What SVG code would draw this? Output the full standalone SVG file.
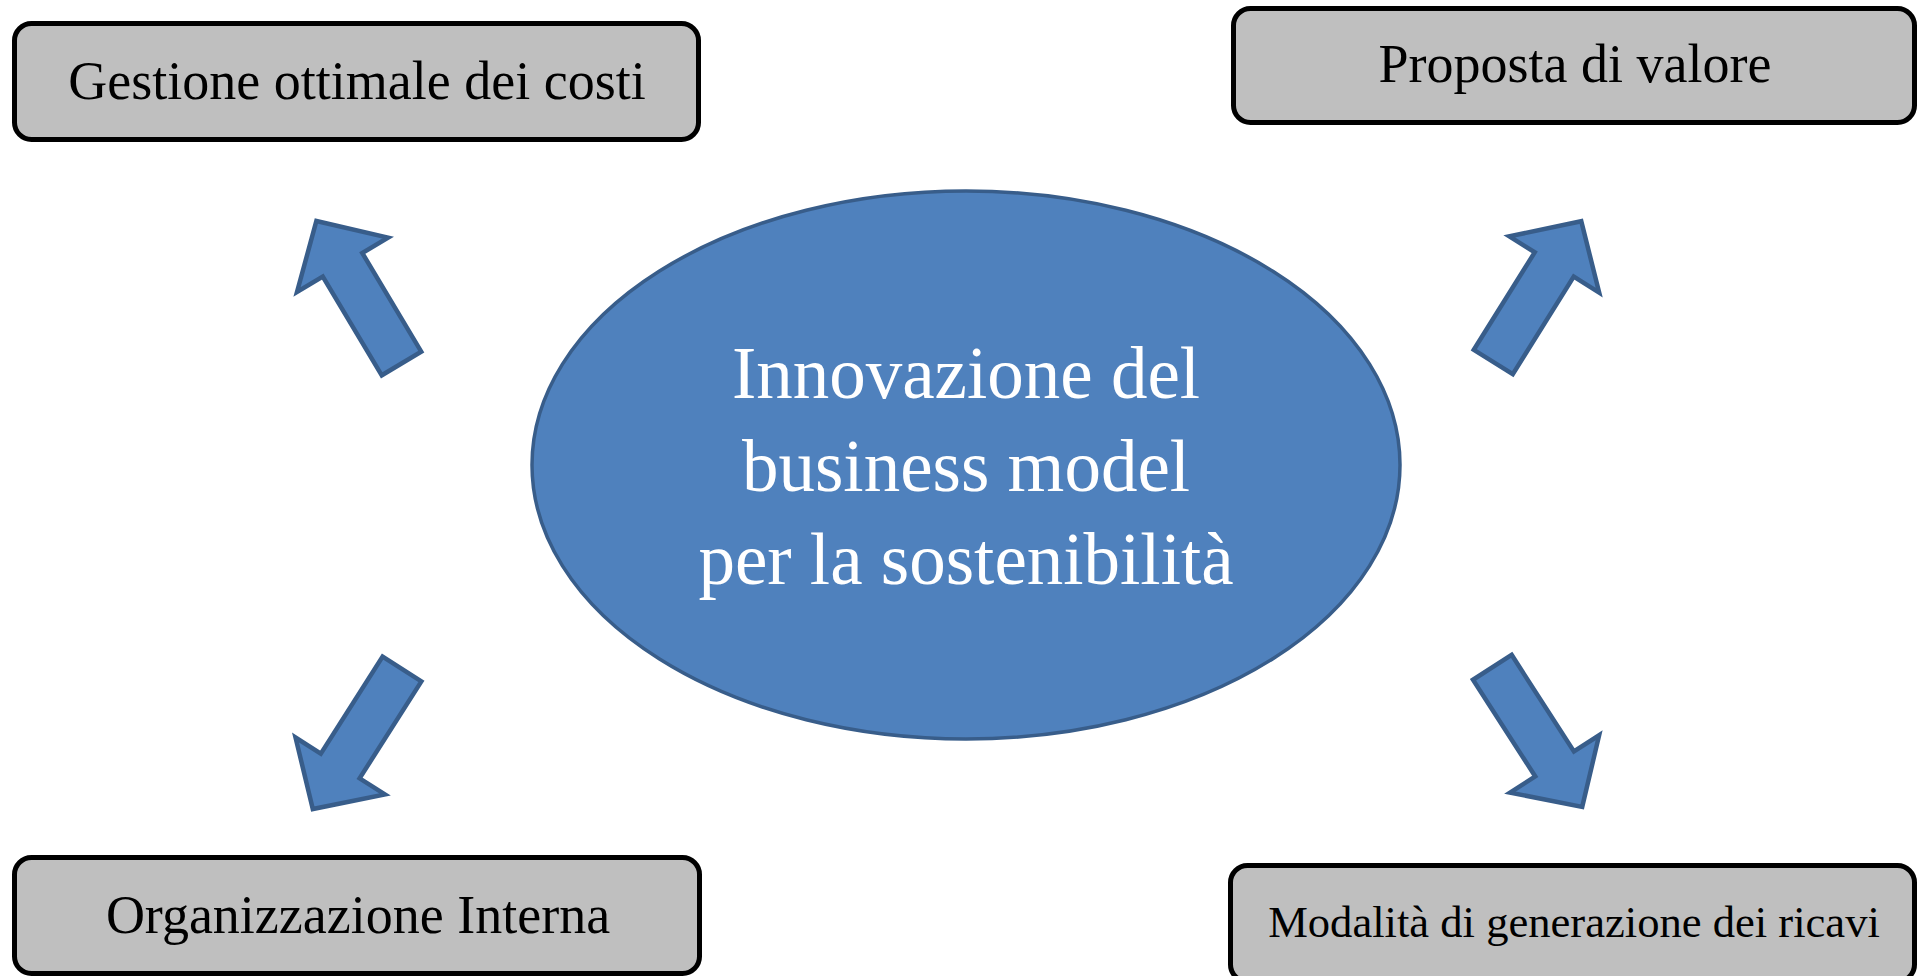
<svg xmlns="http://www.w3.org/2000/svg" width="1919" height="976" viewBox="0 0 1919 976">
  <defs>
    <style>
      .box { fill: #BFBFBF; stroke: #000000; stroke-width: 5; }
      .boxtext { font-family: "Liberation Serif", "DejaVu Serif", serif; font-size: 54px; fill: #000000; text-anchor: middle; }
      .center { fill: #4F81BD; stroke: #385D8A; stroke-width: 3.5; }
      .centertext { font-family: "Liberation Serif", "DejaVu Serif", serif; font-size: 73px; fill: #FFFFFF; text-anchor: middle; }
      .arrow { fill: #4F81BD; stroke: #385D8A; stroke-width: 4.5; stroke-linejoin: miter; }
    </style>
    <path id="blockArrow" d="M0,-23 L115,-23 L115,-53 L166,0 L115,53 L115,23 L0,23 Z"/>
  </defs>
  <rect width="1919" height="976" fill="#FFFFFF"/>

  <g id="node-center">
    <ellipse class="center" cx="966" cy="465" rx="434" ry="274"/>
    <text class="centertext" x="966" y="398">Innovazione del</text>
    <text class="centertext" x="966" y="491">business model</text>
    <text class="centertext" x="966" y="584">per la sostenibilità</text>
  </g>

  <g id="node-costi">
    <rect class="box" x="14.5" y="23.5" width="684" height="116" rx="17"/>
    <text class="boxtext" x="357" y="99">Gestione ottimale dei costi</text>
  </g>

  <g id="node-valore">
    <rect class="box" x="1233.5" y="8.5" width="681" height="114" rx="17"/>
    <text class="boxtext" x="1575" y="82">Proposta di valore</text>
  </g>

  <g id="node-organizzazione">
    <rect class="box" x="14.5" y="857.5" width="685" height="116" rx="17"/>
    <text class="boxtext" x="358" y="933">Organizzazione Interna</text>
  </g>

  <g id="node-ricavi">
    <rect class="box" x="1230.5" y="865.5" width="684" height="116" rx="17"/>
    <text class="boxtext" x="1574" y="937" style="font-size:44.6px">Modalità di generazione dei ricavi</text>
  </g>

  <g id="connectors">
    <use href="#blockArrow" class="arrow" transform="translate(401.5,363.5) rotate(239.15)"/>
    <use href="#blockArrow" class="arrow" transform="translate(1493.3,362) rotate(-58)"/>
    <use href="#blockArrow" class="arrow" transform="translate(402,669) rotate(122.5)"/>
    <use href="#blockArrow" class="arrow" transform="translate(1492.3,667.3) rotate(57.2)"/>
  </g>
</svg>
